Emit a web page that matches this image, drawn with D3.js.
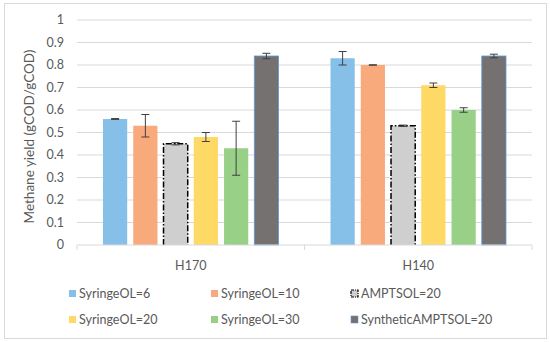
<!DOCTYPE html>
<html>
<head>
<meta charset="utf-8">
<script src="https://cdn.jsdelivr.net/npm/d3@7"></script>
<style>
  body { margin: 0; background: #fff; }
  svg { font-family: Lato, "Open Sans", sans-serif; }
</style>
</head>
<body>
<div id="chart"></div>
<script>
const categories = ['H170', 'H140'];
const seriesNames = ['SyringeOL=6', 'SyringeOL=10', 'AMPTSOL=20', 'SyringeOL=20', 'SyringeOL=30', 'SyntheticAMPTSOL=20'];
const h170Values = [0.56, 0.53, 0.45, 0.48, 0.43, 0.84];
const h140Values = [0.83, 0.80, 0.53, 0.71, 0.60, 0.84];
const h170Errors = [0.002, 0.05, 0.005, 0.02, 0.12, 0.012];
const h140Errors = [0.03, 0.001, 0.003, 0.01, 0.01, 0.008];
const yTicks = [0, 0.1, 0.2, 0.3, 0.4, 0.5, 0.6, 0.7, 0.8, 0.9, 1];

const colors = ['#86bfe7', '#f9aa7c', '#d0cfcf', '#ffd966', '#98d088', '#767171'];

const W = 550, H = 342;
const margin = { top: 20, right: 18, bottom: 97, left: 77 };
const width = W - margin.left - margin.right;
const height = H - margin.top - margin.bottom;

const svg = d3.select('#chart').append('svg')
    .attr('width', W).attr('height', H);

// outer frame
svg.append('rect')
    .attr('x', 4.5).attr('y', 3.5)
    .attr('width', 542).attr('height', 335)
    .attr('fill', 'none').attr('stroke', '#d9d9d9');

const g = svg.append('g').attr('transform', 'translate(' + margin.left + ',' + margin.top + ')');

const x0 = d3.scaleBand().domain(categories).range([0, width]).padding(0);
const x1 = d3.scaleBand().domain(seriesNames).range([26, x0.bandwidth() - 26]).paddingInner(0.2);
const y = d3.scaleLinear().domain([0, 1]).range([height, 0]);

// gridlines
g.selectAll('.grid').data(yTicks.slice(1)).enter().append('line')
    .attr('x1', 0).attr('x2', width)
    .attr('y1', d => y(d)).attr('y2', d => y(d))
    .attr('stroke', '#d9d9d9').attr('stroke-width', 1);

// y tick labels
g.selectAll('.ylab').data(yTicks).enter().append('text')
    .attr('x', -13).attr('y', d => y(d))
    .attr('dy', '0.35em')
    .attr('text-anchor', 'end')
    .attr('font-size', 12.5)
    .attr('fill', '#595959')
    .text(d => d3.format('')(d));

// y axis title
svg.append('text')
    .attr('transform', 'translate(34,' + (margin.top + height / 2 + 4) + ') rotate(-90)')
    .attr('text-anchor', 'middle')
    .attr('font-size', 13.5)
    .attr('fill', '#595959')
    .text('Methane yield (gCOD/gCOD)');

const data = categories.map((c, i) => ({
    cat: c,
    vals: seriesNames.map((s, j) => ({
        s: s, j: j,
        v: (i === 0 ? h170Values : h140Values)[j],
        e: (i === 0 ? h170Errors : h140Errors)[j]
    }))
}));

const groups = g.selectAll('.grp').data(data).enter().append('g')
    .attr('transform', d => 'translate(' + x0(d.cat) + ',0)');

groups.selectAll('rect').data(d => d.vals).enter().append('rect')
    .attr('x', d => x1(d.s))
    .attr('y', d => y(d.v))
    .attr('width', x1.bandwidth())
    .attr('height', d => height - y(d.v))
    .attr('fill', d => colors[d.j])
    .attr('stroke', d => d.j === 5 ? '#5b9bd5' : 'none')
    .attr('stroke-width', 0.8);

// dash-dot outline (left, top, right) for the AMPTSOL bars
groups.selectAll('.outline').data(d => d.vals.filter(v => v.j === 2)).enter().append('path')
    .attr('d', d => {
        const xl = x1(d.s), xr = x1(d.s) + x1.bandwidth();
        return 'M' + xl + ',' + height + 'V' + y(d.v) + 'H' + xr + 'V' + height;
    })
    .attr('fill', 'none')
    .attr('stroke', '#000')
    .attr('stroke-width', 1.5)
    .attr('stroke-dasharray', '6,2,1.5,2');

// error bars
const eb = groups.selectAll('.err').data(d => d.vals).enter().append('g')
    .attr('stroke', '#404040').attr('stroke-width', 1);
eb.append('line')
    .attr('x1', d => x1(d.s) + x1.bandwidth() / 2)
    .attr('x2', d => x1(d.s) + x1.bandwidth() / 2)
    .attr('y1', d => y(d.v - d.e)).attr('y2', d => y(d.v + d.e));
eb.append('line')
    .attr('x1', d => x1(d.s) + x1.bandwidth() / 2 - 4)
    .attr('x2', d => x1(d.s) + x1.bandwidth() / 2 + 4)
    .attr('y1', d => y(d.v + d.e)).attr('y2', d => y(d.v + d.e));
eb.append('line')
    .attr('x1', d => x1(d.s) + x1.bandwidth() / 2 - 4)
    .attr('x2', d => x1(d.s) + x1.bandwidth() / 2 + 4)
    .attr('y1', d => y(d.v - d.e)).attr('y2', d => y(d.v - d.e));

// x axis
const xAxis = g.append('g').attr('transform', 'translate(0,' + height + ')');
xAxis.append('line').attr('x1', 0).attr('x2', width).attr('stroke', '#d9d9d9');
xAxis.selectAll('.tk').data([0, x0.bandwidth(), width]).enter().append('line')
    .attr('x1', d => d).attr('x2', d => d).attr('y1', 0).attr('y2', 5)
    .attr('stroke', '#d9d9d9');
xAxis.selectAll('.xl').data(categories).enter().append('text')
    .attr('x', d => x0(d) + x0.bandwidth() / 2)
    .attr('y', 25)
    .attr('text-anchor', 'middle')
    .attr('font-size', 12.5)
    .attr('fill', '#595959')
    .text(d => d);

// legend
const legendX = [69, 211, 351];
const legendY = [294, 320];
const leg = svg.selectAll('.leg').data(seriesNames).enter().append('g')
    .attr('transform', (d, i) => 'translate(' + legendX[i % 3] + ',' + legendY[Math.floor(i / 3)] + ')');
leg.append('rect')
    .attr('x', 0).attr('y', -4).attr('width', 7).attr('height', 7)
    .attr('fill', (d, i) => colors[i])
    .attr('stroke', (d, i) => i === 2 ? '#000' : (i === 5 ? '#5b9bd5' : 'none'))
    .attr('stroke-width', (d, i) => i === 2 ? 1.2 : 0.6)
    .attr('stroke-dasharray', (d, i) => i === 2 ? '3,1,1,1' : null);
leg.append('text')
    .attr('x', 10).attr('y', 0).attr('dy', '0.35em')
    .attr('font-size', 12.5)
    .attr('fill', '#595959')
    .text(d => d);
</script>
</body>
</html>
